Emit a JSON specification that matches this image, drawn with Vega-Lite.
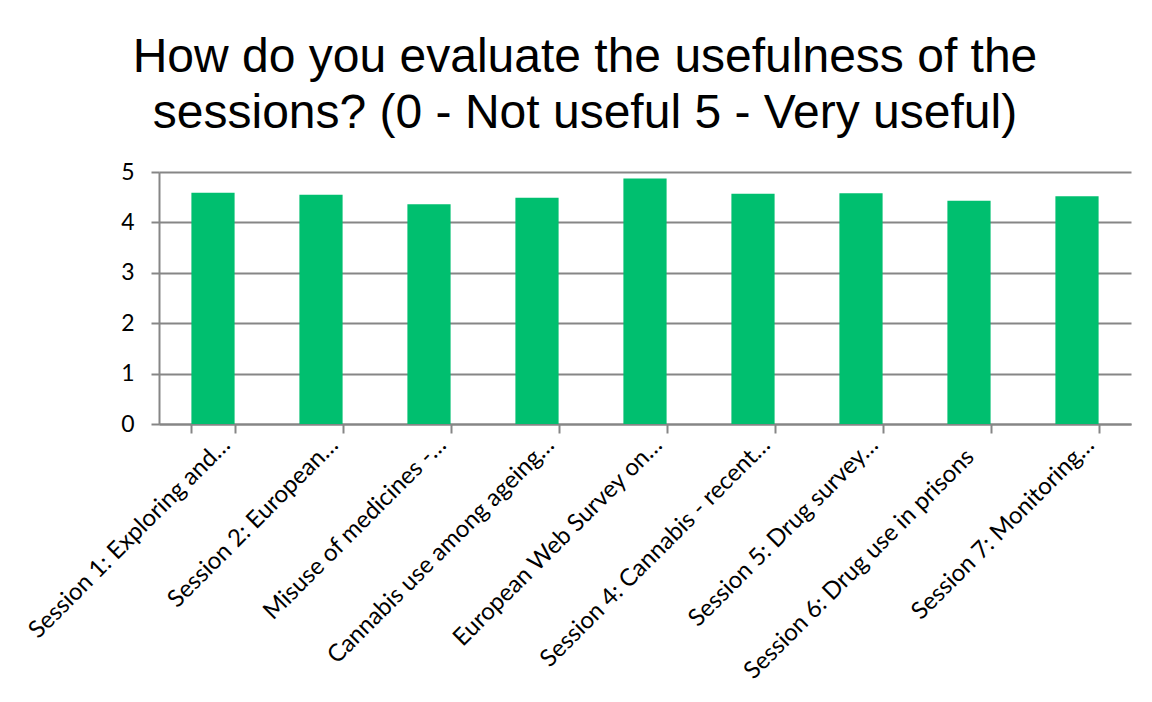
{
  "$schema": "https://vega.github.io/schema/vega-lite/v6.json",
  "width": 972,
  "height": 252,
  "autosize": {"type": "none"},
  "padding": {"left": 159, "top": 172, "right": 21, "bottom": 278},
  "background": "white",
  "title": {
    "text": ["How do you evaluate the usefulness of the", "sessions? (0 - Not useful 5 - Very useful)"],
    "anchor": "middle",
    "dx": -60,
    "font": "Liberation Sans",
    "fontSize": 48,
    "fontWeight": "normal",
    "color": "#000000",
    "lineHeight": 56,
    "offset": 23
  },
  "data": {
    "values": [
      {"session": "Session 1: Exploring and…", "score": 4.59},
      {"session": "Session 2: European…", "score": 4.55},
      {"session": "Misuse of medicines -…", "score": 4.36},
      {"session": "Cannabis use among ageing…", "score": 4.49},
      {"session": "European Web Survey on…", "score": 4.87},
      {"session": "Session 4: Cannabis - recent…", "score": 4.57},
      {"session": "Session 5: Drug survey…", "score": 4.58},
      {"session": "Session 6: Drug use in prisons", "score": 4.43},
      {"session": "Session 7: Monitoring…", "score": 4.52}
    ]
  },
  "mark": {"type": "bar", "color": "#00BF6F"},
  "encoding": {
    "x": {
      "field": "session",
      "type": "nominal",
      "sort": null,
      "scale": {"paddingInner": 0.6, "paddingOuter": 0.3},
      "axis": {
        "title": null,
        "labelAngle": -45,
        "labelAlign": "right",
        "labelBaseline": "middle",
        "labelFont": "Lato",
        "labelFontSize": 24,
        "labelColor": "#000000",
        "labelOffset": {"condition": {"test": "datum.value === 'Session 6: Drug use in prisons'", "value": 1}, "value": 13},
        "labelPadding": {"condition": {"test": "datum.value === 'Session 6: Drug use in prisons'", "value": 20}, "value": 8},
        "labelLimit": 400,
        "labelOverlap": false,
        "tickBand": "extent",
        "tickSize": 9,
        "tickColor": "#868686",
        "tickWidth": 2,
        "domainColor": "#868686",
        "domainWidth": 2,
        "grid": false
      }
    },
    "y": {
      "field": "score",
      "type": "quantitative",
      "scale": {"domain": [0, 5], "nice": false},
      "axis": {
        "title": null,
        "values": [0, 1, 2, 3, 4, 5],
        "labelFont": "Lato",
        "labelFontSize": 23,
        "labelColor": "#000000",
        "labelPadding": 17,
        "tickSize": 8,
        "tickColor": "#868686",
        "tickWidth": 2,
        "domainColor": "#868686",
        "domainWidth": 2,
        "grid": true,
        "gridColor": "#868686",
        "gridWidth": 2
      }
    }
  },
  "config": {
    "view": {"stroke": null}
  }
}
